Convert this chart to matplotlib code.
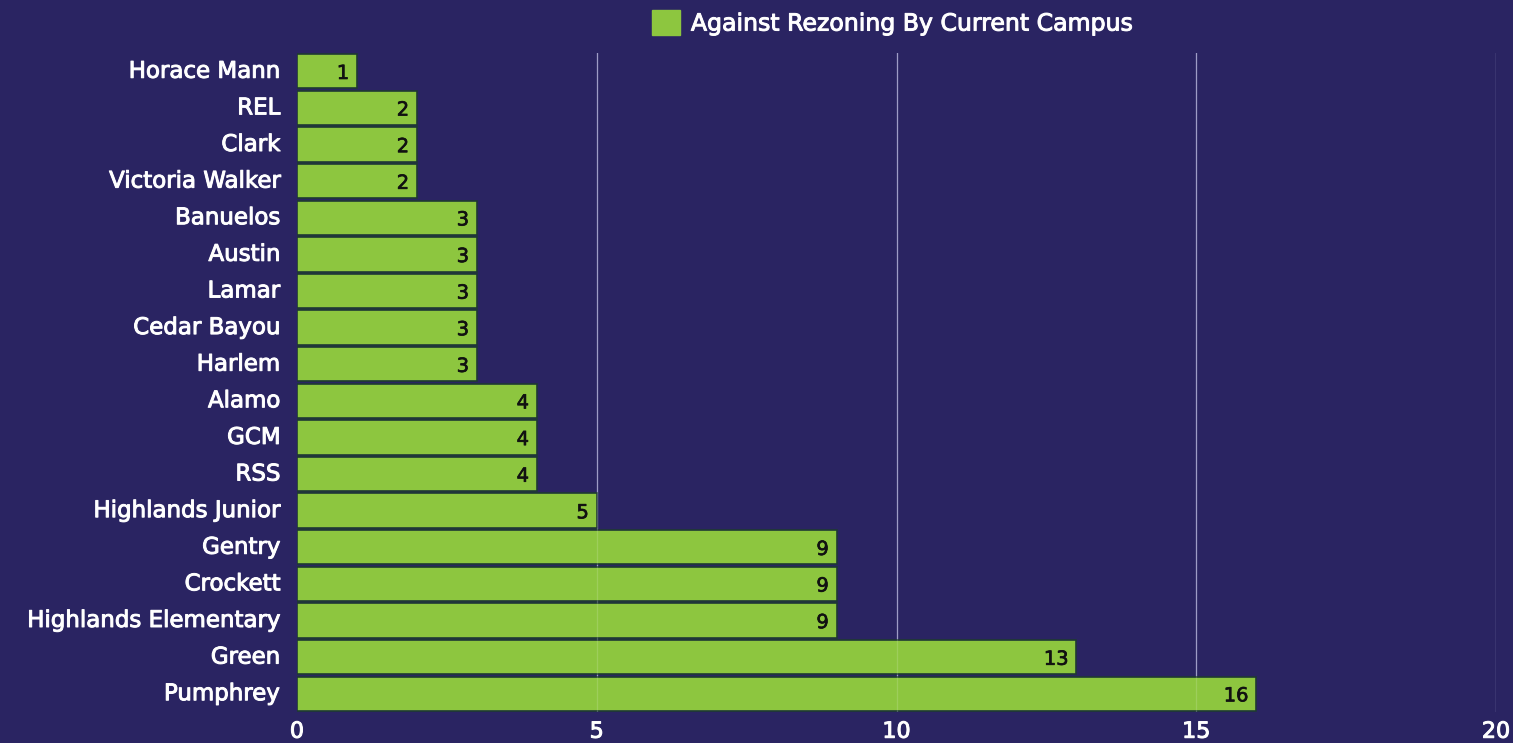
import matplotlib.pyplot as plt
import matplotlib.patheffects as pe
from matplotlib.patches import Patch

# 数据 (从上到下)
campuses = ['Horace Mann', 'REL', 'Clark', 'Victoria Walker', 'Banuelos', 'Austin',
            'Lamar', 'Cedar Bayou', 'Harlem', 'Alamo', 'GCM', 'RSS',
            'Highlands Junior', 'Gentry', 'Crockett', 'Highlands Elementary',
            'Green', 'Pumphrey']
against = [1, 2, 2, 2, 3, 3, 3, 3, 3, 4, 4, 4, 5, 9, 9, 9, 13, 16]
x_ticks = [0, 5, 10, 15, 20]

bg = '#2a2462'
bar_color = '#8dc63f'

plt.rcParams['font.family'] = ['DejaVu Sans']
bold_fx = [pe.withStroke(linewidth=0.7, foreground='white')]
dark_fx = [pe.withStroke(linewidth=0.5, foreground='#111111')]

fig = plt.figure(figsize=(15.13, 7.43), dpi=100, facecolor=bg)
ax = fig.add_axes([0.1963, 0.0417, 0.7925, 0.887])
ax.set_facecolor(bg)

ypos = list(range(len(campuses)))
ax.barh(ypos, against, height=0.94, color=bar_color, edgecolor='#1f3a33', linewidth=1.2, zorder=3)

for y, v in zip(ypos, against):
    ax.text(v - 0.13, y + 0.06, str(v), ha='right', va='center', fontsize=14,
            color='#111111', zorder=5, path_effects=dark_fx)

ax.set_ylim(len(campuses) - 0.5, -0.5)
ax.set_xlim(0, 20)
ax.set_yticks(ypos)
ax.set_yticklabels(campuses, fontsize=16.5, color='white', va='center')
ax.set_xticks(x_ticks)
ax.set_xticklabels([str(t) for t in x_ticks], fontsize=16, color='white')
for lab in ax.get_yticklabels() + ax.get_xticklabels():
    lab.set_path_effects(bold_fx)
ax.tick_params(axis='both', length=0)
ax.tick_params(axis='y', pad=12)
ax.tick_params(axis='x', pad=7)

for t in x_ticks[1:]:
    ax.axvline(t, color='#8e8bbd', linewidth=0.9, zorder=1)
    ax.axvline(t, color='white', linewidth=0.9, alpha=0.15, zorder=4)

for s in ax.spines.values():
    s.set_visible(False)

handle = [Patch(facecolor=bar_color, edgecolor=bar_color)]
leg = fig.legend(handle, ['Against Rezoning By Current Campus'], loc='center',
                 bbox_to_anchor=(0.590, 0.969), frameon=False,
                 labelcolor='white', handlelength=1.2, handleheight=1.2, handletextpad=0.45,
                 prop={'size': 17})
for txt in leg.get_texts():
    txt.set_path_effects(bold_fx)

fig.savefig('out.png', dpi=100, facecolor=bg)
